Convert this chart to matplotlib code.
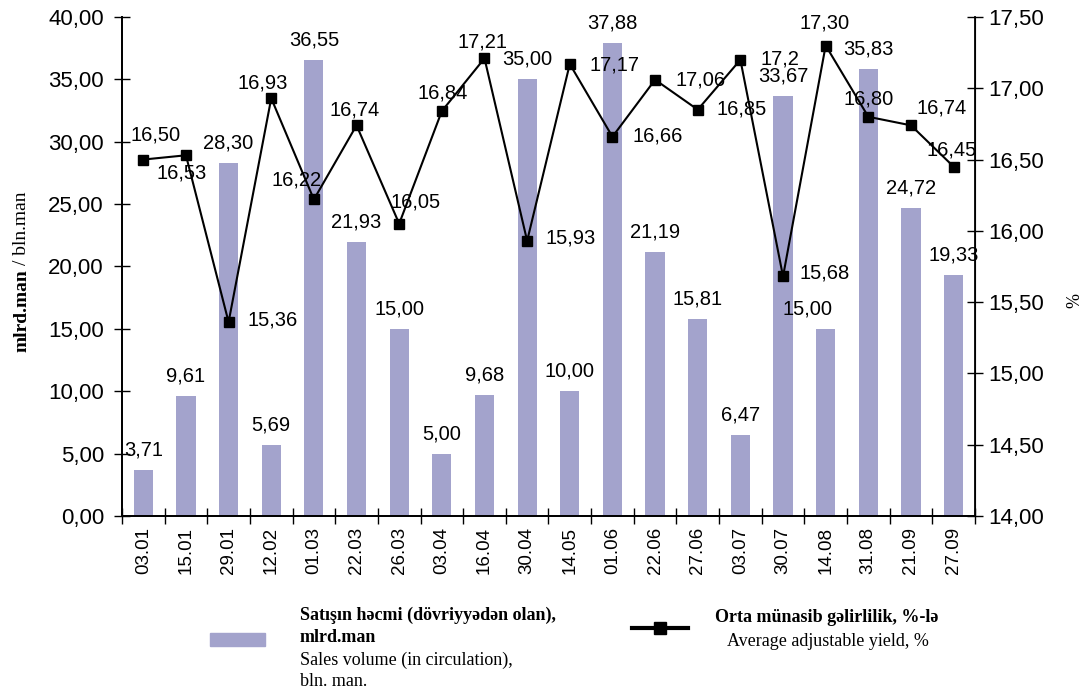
import matplotlib
matplotlib.use("Agg")
import matplotlib.pyplot as plt
from matplotlib.lines import Line2D
from matplotlib.patches import Rectangle
from matplotlib.ticker import FixedLocator, FuncFormatter, MultipleLocator

dates = ["03.01", "15.01", "29.01", "12.02", "01.03", "22.03", "26.03", "03.04", "16.04", "30.04",
         "14.05", "01.06", "22.06", "27.06", "03.07", "30.07", "14.08", "31.08", "21.09", "27.09"]
sales = [3.71, 9.61, 28.30, 5.69, 36.55, 21.93, 15.00, 5.00, 9.68, 35.00,
         10.00, 37.88, 21.19, 15.81, 6.47, 33.67, 15.00, 35.83, 24.72, 19.33]
yields = [16.50, 16.53, 15.36, 16.93, 16.22, 16.74, 16.05, 16.84, 17.21, 15.93,
          17.17, 16.66, 17.06, 16.85, 17.20, 15.68, 17.30, 16.80, 16.74, 16.45]
yield_labels = ["16,50", "16,53", "15,36", "16,93", "16,22", "16,74", "16,05", "16,84", "17,21", "15,93",
                "17,17", "16,66", "17,06", "16,85", "17,2", "15,68", "17,30", "16,80", "16,74", "16,45"]

# label offsets in pixels (dx, dy up) relative to the marker
yield_offsets = [(12, 25), (-4, -18), (44, 2), (-9, 15), (-17, 19), (-2, 15), (16, 22), (1, 18),
                 (-2, 16), (43, 3), (45, -1), (45, 1), (45, 0), (44, 1), (40, 1), (42, 3),
                 (-1, 23), (0, 18), (31, 17), (-2, 17)]
sales_dx = [0] * 20
sales_dx[16] = -18

BAR_COLOR = "#a3a3cc"
SANS = "Liberation Sans"
SERIF = "Liberation Serif"


def comma(v, _pos=None):
  return f"{v:.2f}".replace(".", ",")


fig = plt.figure(figsize=(10.88, 6.91), dpi=100)
ax = fig.add_axes([0.1121, 0.2533, 0.7840, 0.7221])
ax2 = ax.twinx()

x = list(range(len(dates)))
ax.bar(x, sales, width=0.45, color=BAR_COLOR, zorder=2)
ax.set_xlim(-0.5, len(dates) - 0.5)
ax.set_ylim(0, 40)
ax.yaxis.set_major_locator(MultipleLocator(5))
ax.yaxis.set_major_formatter(FuncFormatter(comma))

ax.xaxis.set_major_locator(FixedLocator(x))
ax.set_xticklabels(dates, rotation=90, fontsize=13.5, family=SANS)
ax.xaxis.set_minor_locator(FixedLocator([i - 0.5 for i in range(len(dates) + 1)]))
ax.tick_params(axis="x", which="major", length=0, pad=8)
ax.tick_params(axis="x", which="minor", direction="inout", length=12, width=1)
ax.tick_params(axis="y", direction="inout", length=12, width=1, labelsize=16, pad=7)
for lbl in ax.get_yticklabels():
  lbl.set_family(SANS)

ax.spines["top"].set_visible(False)
ax2.spines["top"].set_visible(False)
for spine in ax2.spines.values():
  spine.set_linewidth(1.3)
ax.spines["left"].set_linewidth(1.3)
ax.spines["bottom"].set_linewidth(1.3)

for xi, v, dx in zip(x, sales, sales_dx):
  ax.annotate(comma(v), (xi, v), xytext=(dx * 0.72, 20 * 0.72), textcoords="offset points",
              ha="center", va="center", fontsize=14.5, family=SANS, zorder=3)

ax2.plot(x, yields, color="black", linewidth=1.5, marker="s", markersize=7.5, zorder=4)
ax2.set_ylim(14, 17.5)
ax2.yaxis.set_major_locator(MultipleLocator(0.5))
ax2.yaxis.set_major_formatter(FuncFormatter(comma))
ax2.tick_params(axis="y", direction="inout", length=12, width=1, labelsize=16)
for lbl in ax2.get_yticklabels():
  lbl.set_family(SANS)

for xi, v, lab, (dx, dy) in zip(x, yields, yield_labels, yield_offsets):
  ax2.annotate(lab, (xi, v), xytext=(dx * 0.72, dy * 0.72), textcoords="offset points",
               ha="center", va="center", fontsize=14.5, family=SANS, zorder=5)

# axis titles (rotated text reads bottom to top)
fig.text(0.020, 0.610, "mlrd.man", rotation=90, ha="center", va="top",
         fontsize=14, family=SERIF, fontweight="bold")
fig.text(0.020, 0.617, "/ bln.man", rotation=90, ha="center", va="bottom",
         fontsize=14, family=SERIF)
fig.text(0.988, 0.565, "%", rotation=90, ha="center", va="center", fontsize=13, family=SERIF)

# legend drawn by hand below the chart
fig.patches.append(Rectangle((210 / 1088, 1 - 646 / 691), 55 / 1088, 13 / 691,
                             transform=fig.transFigure, color=BAR_COLOR))
fig.text(300 / 1088, 1 - 615 / 691, "Satışın həcmi (dövriyyədən olan),", fontsize=13,
         family=SERIF, fontweight="bold", va="center")
fig.text(300 / 1088, 1 - 638 / 691, "mlrd.man", fontsize=13, family=SERIF, fontweight="bold",
         va="center")
fig.text(300 / 1088, 1 - 660 / 691, "Sales volume (in circulation),", fontsize=13, family=SERIF,
         va="center")
fig.text(300 / 1088, 1 - 681 / 691, "bln. man.", fontsize=13, family=SERIF, va="center")

fig.lines.append(Line2D([632 / 1088, 688 / 1088], [1 - 628 / 691, 1 - 628 / 691],
                        transform=fig.transFigure, color="black", linewidth=3))
fig.lines.append(Line2D([660 / 1088], [1 - 628 / 691], transform=fig.transFigure,
                        color="black", marker="s", markersize=8))
fig.text(715 / 1088, 1 - 617 / 691, "Orta münasib gəlirlilik, %-lə", fontsize=13, family=SERIF,
         fontweight="bold", va="center")
fig.text(727 / 1088, 1 - 642 / 691, "Average adjustable yield, %", fontsize=13, family=SERIF,
         va="center")

fig.savefig("out.png", dpi=100)
